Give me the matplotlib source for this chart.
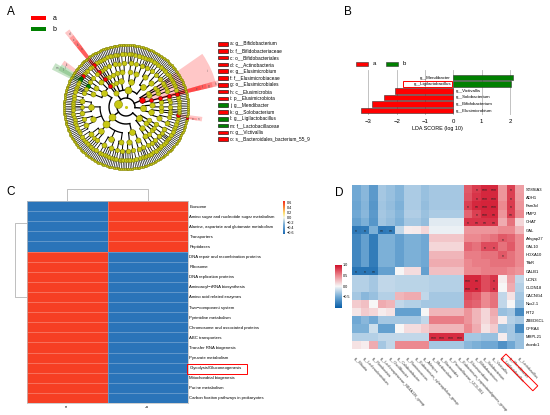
import numpy as np
import matplotlib
matplotlib.use("Agg")
import matplotlib.pyplot as plt
from matplotlib.patches import Wedge, Rectangle, Polygon
from matplotlib.colors import LinearSegmentedColormap

plt.rcParams['font.family'] = ['Liberation Sans', 'DejaVu Sans']

W, H = 550, 415

# ---------------- data ----------------
# cladogram tree: phylum -> class -> order -> family -> genus (= number of species)
phylum_bact = [[[[2, 1, 3], [1, 2]], [[2, 1], [1]]],
               [[[1, 3, 1]], [[2], [1, 2]]]]
phylum_elusi = [[[[2]]],
                [[[3, 2], [1]], [[2, 1]]],
                [[[1, 1]]]]
phylum_proteo = [[[[2, 1, 3], [1, 2]], [[3, 1], [2, 2, 1]]],
                 [[[1, 2, 2], [3]], [[2, 1, 1, 2]]],
                 [[[2, 3], [1, 1]], [[2, 1, 2]]],
                 [[[2, 2]]]]
phylum_actino = [[[[1, 2], [1]], [[2]]],
                 [[[2]]]]
phylum_firmi = [[[[1, 2], [3, 1]], [[1, 2, 1], [2, 1]], [[2, 1], [1, 1, 2]]],
                [[[3, 2, 1, 2], [1, 1], [2, 3, 1]], [[2, 2], [1, 3, 2, 1]],
                 [[4, 1, 2], [2], [1, 2, 1]], [[3, 3, 1], [2, 1, 2, 2]], [[1, 2], [2, 1, 1]]],
                [[[2, 1, 2], [1, 3]], [[2, 2], [1, 1, 2]]]]
phylum_other = [[[[2, 1], [3, 1]], [[1, 2]]],
                [[[2, 2, 1]], [[1, 1]]],
                [[[3, 2]]]]
clade_tree = [phylum_bact, phylum_elusi, phylum_proteo, phylum_actino, phylum_firmi, phylum_other]

# biomarker clades: path in tree, letter, taxon, enriched group
biomarker_paths = [(3, 1, 0, 0, 0), (3, 1, 0, 0), (3, 1, 0), (3, 1),
                   (1, 0, 0, 0, 0), (1, 0, 0, 0), (1, 0, 0), (1, 0), (1,),
                   (4, 0, 1, 0, 2), (4, 0, 1, 0, 1), (4, 0, 1, 1, 0), (4, 0, 1, 1),
                   (0, 0, 1, 0, 0), (0, 0, 1, 0, 0, 0)]
biomarker_letters = list('abcdefghijklmno')
biomarker_names = ['g__Bifidobacterium', 'f__Bifidobacteriaceae', 'o__Bifidobacteriales',
                   'c__Actinobacteria', 'g__Elusimicrobium', 'f__Elusimicrobiaceae',
                   'o__Elusimicrobiales', 'c__Elusimicrobia', 'p__Elusimicrobiota',
                   'g__Mendibacter', 'g__Solobacterium', 'g__Ligilactobacillus',
                   'f__Lactobacillaceae', 'g__Victivallis', 's__Bacteroidales_bacterium_55_9']
biomarker_group = ['a', 'a', 'a', 'a', 'a', 'a', 'a', 'a', 'a', 'b', 'a', 'b', 'b', 'a', 'a']

# LDA
lda_taxa = ['g__Mendibacter', 'g__Ligilactobacillus', 'g__Victivallis',
            'g__Solobacterium', 'g__Bifidobacterium', 'g__Elusimicrobium']
lda_score = [2.10, 2.03, -2.07, -2.44, -2.88, -3.25]

# KEGG heatmap
pathways = ['Exosome', 'Amino sugar and nucleotide sugar metabolism',
            'Alanine, aspartate and glutamate metabolism', 'Transporters', 'Peptidases',
            'DNA repair and recombination proteins', 'Ribosome', 'DNA replication proteins',
            'Aminoacyl\u2212tRNA biosynthesis', 'Amino acid related enzymes',
            'Two\u2212component system', 'Pyrimidine metabolism',
            'Chromosome and associated proteins', 'ABC transporters',
            'Transfer RNA biogenesis', 'Pyruvate metabolism', 'Glycolysis/Gluconeogenesis',
            'Mitochondrial biogenesis', 'Purine metabolism',
            'Carbon fixation pathways in prokaryotes']
pathway_a = [-0.62] * 5 + [0.62] * 15
pathway_b = [0.62] * 5 + [-0.62] * 15
groups_c = ['a', 'b']

# correlation heatmap
genes = ['ST8SIA3', 'ADH1', 'Fam3d', 'PMP2', 'CHAT', 'GAL', 'Arhgap27', 'GAL10', 'HOXA10',
         'TfbR', 'CALB1', 'UCN3', 'CLDN18', 'CACNG4', 'Nkx2-1', 'RIT2', 'ZBED6CL', 'GFRA4',
         'MRPL21', 'chordc1']
genera = ['g__Blautia', 'g__Lachnoclostridium', 'g__Romboutsia',
          'g__Lachnospiraceae_NK4A136_group', 'g__Oscillibacter', 'g__Colidextribacter',
          'g__Ruminococcus', 'g__Eubacterium_xylanophilum_group', 'g__Alistipes',
          'g__Muribaculum', 'g__Bacteroides', 'g__Prevotellaceae_UCG-001',
          'g__Eubacterium_coprostanoligenes_group', 'g__Elusimicrobium',
          'g__Bifidobacterium', 'g__Solobacterium', 'g__Victivallis',
          'g__Ligilactobacillus', 'g__Mendibacter', 'g__Lactobacillus']
corr = [
    [-0.50, -0.40, -0.60, -0.30, -0.35, -0.42, -0.28, -0.28, -0.35, -0.30, -0.30, -0.30, -0.30, 0.70, 0.82, 0.90, 0.90, 0.45, 0.80, 0.40],
    [-0.50, -0.40, -0.60, -0.30, -0.35, -0.42, -0.28, -0.28, -0.35, -0.30, -0.30, -0.30, -0.30, 0.72, 0.85, 0.90, 0.90, 0.45, 0.80, 0.42],
    [-0.52, -0.42, -0.62, -0.32, -0.36, -0.44, -0.28, -0.28, -0.36, -0.30, -0.30, -0.30, -0.30, 0.80, 0.90, 0.92, 0.92, 0.50, 0.82, 0.45],
    [-0.50, -0.40, -0.60, -0.30, -0.34, -0.42, -0.26, -0.26, -0.34, -0.28, -0.28, -0.28, -0.28, 0.65, 0.80, 0.90, 0.90, 0.45, 0.80, 0.50],
    [-0.55, -0.45, -0.62, -0.32, -0.36, -0.44, -0.30, -0.30, -0.36, -0.08, -0.08, -0.08, -0.08, 0.85, 0.85, 0.85, 0.85, 0.35, 0.60, 0.15],
    [-0.82, -0.80, -0.45, -0.82, -0.80, -0.20, 0.05, 0.06, 0.15, -0.04, -0.04, -0.04, -0.04, 0.45, 0.45, 0.45, 0.45, 0.50, 0.50, 0.30],
    [-0.72, -0.55, -0.80, -0.45, -0.45, -0.55, -0.45, -0.45, -0.50, 0.22, 0.22, 0.22, 0.22, 0.50, 0.50, 0.55, 0.60, 0.70, 0.65, 0.50],
    [-0.72, -0.55, -0.80, -0.45, -0.45, -0.55, -0.45, -0.45, -0.50, 0.15, 0.15, 0.15, 0.15, 0.65, 0.60, 0.75, 0.75, 0.60, 0.70, 0.50],
    [-0.72, -0.55, -0.80, -0.45, -0.45, -0.55, -0.45, -0.45, -0.50, 0.30, 0.30, 0.30, 0.30, 0.55, 0.55, 0.60, 0.60, 0.70, 0.60, 0.50],
    [-0.72, -0.55, -0.80, -0.45, -0.45, -0.55, -0.45, -0.45, -0.50, 0.35, 0.35, 0.35, 0.35, 0.50, 0.55, 0.55, 0.60, 0.60, 0.60, 0.50],
    [-0.85, -0.85, -0.85, -0.55, -0.55, 0.00, 0.12, 0.12, -0.55, 0.25, 0.25, 0.25, 0.25, 0.50, 0.50, 0.55, 0.55, 0.55, 0.50, 0.45],
    [-0.25, -0.25, -0.30, -0.20, -0.20, -0.22, -0.22, -0.22, -0.22, -0.25, -0.25, -0.25, -0.25, 0.90, 0.90, 0.75, 0.85, 0.05, 0.40, -0.20],
    [-0.25, -0.25, -0.30, -0.20, -0.20, -0.22, -0.22, -0.22, -0.22, -0.25, -0.25, -0.25, -0.25, 0.90, 0.90, 0.75, 0.85, 0.00, 0.35, -0.25],
    [-0.30, -0.40, -0.35, -0.25, -0.25, 0.30, 0.35, 0.35, -0.20, -0.30, -0.30, -0.30, -0.30, 0.75, 0.70, 0.50, 0.60, -0.20, 0.10, -0.30],
    [0.20, 0.25, 0.00, 0.35, 0.30, -0.20, -0.25, -0.25, -0.30, -0.30, -0.30, -0.30, -0.30, 0.70, 0.65, 0.50, 0.60, -0.20, 0.00, -0.35],
    [0.08, 0.20, 0.15, 0.05, 0.10, -0.55, -0.55, -0.55, 0.00, 0.30, 0.30, 0.30, 0.30, 0.45, 0.30, 0.15, 0.35, -0.35, -0.30, -0.70],
    [-0.50, -0.40, -0.50, -0.30, -0.30, -0.30, -0.30, -0.30, -0.20, 0.55, 0.55, 0.55, 0.55, 0.45, 0.30, 0.15, 0.30, 0.05, -0.25, -0.30],
    [-0.45, -0.45, -0.15, -0.55, -0.55, 0.00, 0.12, 0.12, 0.20, 0.30, 0.30, 0.30, 0.30, 0.50, 0.35, 0.10, 0.20, -0.35, -0.30, -0.70],
    [-0.25, -0.25, -0.25, -0.20, -0.20, -0.20, -0.20, -0.20, -0.20, 0.88, 0.88, 0.88, 0.88, -0.30, -0.30, -0.35, -0.35, 0.05, -0.30, -0.35],
    [0.10, 0.05, 0.35, -0.30, -0.20, 0.50, 0.50, 0.50, 0.50, -0.30, -0.30, -0.30, -0.30, -0.40, -0.45, -0.50, -0.50, -0.65, -0.50, -0.35],
]
star_rows = [0, 0, 0, 0, 1, 1, 1, 1, 2, 2, 2, 2, 2, 3, 3, 3, 3, 4, 4, 4, 4,
             5, 5, 5, 5, 6, 7, 7, 8, 10, 10, 10, 11, 11, 11, 12, 12, 12, 18, 18, 18, 18]
star_cols = [14, 15, 16, 18, 14, 15, 16, 18, 13, 14, 15, 16, 18, 14, 15, 16, 18, 13, 14, 15, 16,
             0, 1, 3, 4, 17, 15, 16, 17, 0, 1, 2, 13, 14, 16, 13, 14, 16, 9, 10, 11, 12]
star_marks = ['*', '***', '***', '*', '*', '***', '***', '*', '*', '**', '***', '***', '*',
              '*', '***', '**', '**', '*', '**', '**', '**',
              '*', '*', '**', '**', '*', '*', '*', '*', '*', '*', '**',
              '***', '**', '*', '***', '**', '*', '***', '***', '***', '***']

RED, GREEN = '#ff0000', '#008000'

fig = plt.figure(figsize=(W / 100, H / 100), dpi=100)


def px_axes(x0, y0, x1, y1):
    return fig.add_axes([x0 / W, 1 - y1 / H, (x1 - x0) / W, (y1 - y0) / H])


# ---------------- A: cladogram ----------------
cv = fig.add_axes([0, 0, 1, 1])
cv.set_xlim(0, W)
cv.set_ylim(H, 0)
cv.axis('off')

leaf_count = [0]


def build(spec, level, path):
    node = {'level': level, 'path': path, 'children': []}
    if level == 5:
        for s in range(spec):
            node['children'].append({'level': 6, 'path': path + (s,), 'children': [],
                                     'lo': leaf_count[0], 'hi': leaf_count[0] + 1})
            leaf_count[0] += 1
    else:
        for i, sub in enumerate(spec):
            node['children'].append(build(sub, level + 1, path + (i,)))
    node['lo'] = node['children'][0]['lo']
    node['hi'] = node['children'][-1]['hi']
    return node


root = build(clade_tree, 0, ())
n_leaves = leaf_count[0]
theta0 = 334.0
step = 360.0 / n_leaves
cx, cy = 126, 107
ring_r = [9, 17, 26, 35, 44, 53, 62]
line_w = [1.0, 1.0, 0.9, 0.8, 0.7, 0.55, 0.45]


def set_angle(node):
    if not node['children']:
        node['ang'] = theta0 + (node['lo'] + 0.5) * step
    else:
        for c in node['children']:
            set_angle(c)
        node['ang'] = 0.5 * (node['children'][0]['ang'] + node['children'][-1]['ang'])


set_angle(root)

all_nodes = []


def collect(node):
    all_nodes.append(node)
    for c in node['children']:
        collect(c)


collect(root)
by_path = {n['path']: n for n in all_nodes}


def pol(r, a):
    t = np.radians(a)
    return cx + r * np.cos(t), cy - r * np.sin(t)


# shaded clades
outer_r = {1: 93, 2: 96, 3: 89, 4: 83, 5: 77, 6: 72}
for path, letter, grp in zip(biomarker_paths, biomarker_letters, biomarker_group):
    nd = by_path[path]
    col = RED if grp == 'a' else GREEN
    a1 = theta0 + nd['lo'] * step
    a2 = theta0 + nd['hi'] * step
    r_in = ring_r[nd['level']] - 2
    r_out = outer_r[nd['level']]
    cv.add_patch(Wedge((cx, cy), r_out, -a2, -a1, width=r_out - r_in, fc=col, ec='none',
                       alpha=0.22, zorder=1))
    lx, ly = pol(r_out - 4, 0.5 * (a1 + a2))
    cv.text(lx, ly, letter, fontsize=2.0, color='#555555', ha='center', va='center', zorder=2)

# branches
for nd in all_nodes:
    if not nd['children']:
        continue
    r = ring_r[nd['level']]
    lw = line_w[nd['level']]
    a_lo, a_hi = nd['children'][0]['ang'], nd['children'][-1]['ang']
    t = np.radians(np.linspace(a_lo, a_hi, max(2, int(abs(a_hi - a_lo)) + 2)))
    cv.plot(cx + r * np.cos(t), cy - r * np.sin(t), color='black', lw=lw, zorder=2)
    for ch in nd['children']:
        p0 = pol(r, ch['ang'])
        p1 = pol(ring_r[ch['level']], ch['ang'])
        cv.plot([p0[0], p1[0]], [p0[1], p1[1]], color='black', lw=line_w[ch['level']],
                zorder=2)

# nodes
marker_col = {p: (RED if g == 'a' else GREEN) for p, g in zip(biomarker_paths, biomarker_group)}
for nd in all_nodes:
    nl = nd['hi'] - nd['lo']
    if nd['level'] == 6:
        d = 2.4
    elif nd['level'] == 0:
        d = 8.0
    else:
        d = min(7.0, 2.8 + 0.75 * np.log2(1 + nl))
    x, y = pol(ring_r[nd['level']], nd['ang'])
    fc = marker_col.get(nd['path'], '#c8c814')
    ec = '#5a0000' if fc == RED else ('#003000' if fc == GREEN else '#7a7a00')
    cv.scatter([x], [y], s=(d / 1.389) ** 2, c=fc, edgecolors=ec, linewidths=0.35, zorder=3)
cv.scatter([cx], [cy], s=1.5, c='#c8c814', zorder=3)

# group legend (A)
for yy, col, lab in [(16, RED, 'a'), (27, GREEN, 'b')]:
    cv.add_patch(Rectangle((31, yy), 15, 4.3, fc=col, ec='none'))
    cv.text(53, yy + 2.2, lab, fontsize=5, ha='left', va='center')

# biomarker legend (A)
for k, (letter, name, grp) in enumerate(zip(biomarker_letters, biomarker_names, biomarker_group)):
    yy = 44 + k * 6.8
    cv.add_patch(Rectangle((218, yy - 1.8), 10, 3.6, fc=RED if grp == 'a' else GREEN,
                           ec='black', lw=0.4))
    cv.text(230.5, yy, letter + ': ' + name, fontsize=3.4, ha='left', va='center')

# ---------------- B: LDA bars ----------------
axB = px_axes(358.5, 70, 517, 115)
axB.set_facecolor('none')
ypos = np.arange(len(lda_taxa))
axB.barh(ypos, lda_score, height=0.85, color=[GREEN if v > 0 else RED for v in lda_score],
         edgecolor='#333333', linewidth=0.4, zorder=3)
for yv, name, v in zip(ypos, lda_taxa, lda_score):
    if v > 0:
        axB.text(-0.08, yv, name, fontsize=3.2, ha='right', va='center', zorder=4)
    else:
        axB.text(0.08, yv, name, fontsize=3.2, ha='left', va='center', zorder=4)
axB.set_xlim(-3.35, 2.25)
axB.set_ylim(5.68, -1.14)
axB.set_xticks(range(-3, 3))
axB.set_yticks([])
axB.grid(axis='x', color='#b8b8b8', lw=0.6, zorder=0)
for s in axB.spines.values():
    s.set_visible(False)
axB.tick_params(axis='x', length=0, labelsize=4.3, pad=3)
axB.set_xlabel('LDA SCORE (log 10)', fontsize=3.9, labelpad=1.5)

for xx, col, lab in [(356, RED, 'a'), (386, GREEN, 'b')]:
    cv.add_patch(Rectangle((xx, 61.7), 11.5, 4, fc=col, ec='#333333', lw=0.4))
    cv.text(xx + 16.5, 63.7, lab, fontsize=4.3, ha='left', va='center')

# ---------------- C: pathway heatmap ----------------
cmapC = LinearSegmentedColormap.from_list('c', [(0, '#1c6ab4'), (0.3, '#7fb2da'),
                                                (0.5, '#f7f7e8'), (0.62, '#fde67c'),
                                                (0.8, '#f98c3c'), (1, '#f52a1d')])
axC = px_axes(27, 201, 188, 403)
valsC = np.array([pathway_a, pathway_b]).T
meshC = axC.pcolormesh(valsC, cmap=cmapC, vmin=-0.68, vmax=0.68,
                       edgecolors=(1, 1, 1, 0.25), linewidth=0.4)
axC.set_xlim(0, 2)
axC.set_ylim(len(pathways), 0)
axC.yaxis.tick_right()
axC.set_yticks(np.arange(len(pathways)) + 0.5)
axC.set_yticklabels(pathways, fontsize=3.1)
axC.set_xticks([0.5, 1.5])
axC.set_xticklabels(groups_c, fontsize=2.8, rotation=90)
axC.tick_params(length=0, pad=1)
for s in axC.spines.values():
    s.set_color('#bbbbbb')
    s.set_linewidth(0.5)

axCb = px_axes(282.7, 201, 285.3, 234)
cbC = fig.colorbar(meshC, cax=axCb, ticks=[0.6, 0.4, 0.2, 0, -0.2, -0.4, -0.6])
cbC.ax.tick_params(labelsize=2.7, length=0, pad=1)
cbC.outline.set_visible(False)

dendro = dict(color='#b4b4b4', lw=0.6)
cv.plot([67, 67, 147.5, 147.5], [201, 189.3, 189.3, 201], **dendro)
cv.plot([26.5, 15, 15, 26.5], [222.5, 222.5, 297, 297], **dendro)

# ---------------- D: correlation heatmap ----------------
cmapD = LinearSegmentedColormap.from_list('d', [(0, '#0b5fa8'), (0.25, '#6fa8d4'),
                                                (0.5, '#f7f7f7'), (0.75, '#ec8a91'),
                                                (1, '#d0102a')])
axD = px_axes(352, 185, 524, 349)
meshD = axD.pcolormesh(np.array(corr), cmap=cmapD, vmin=-1, vmax=1)
axD.set_xlim(0, len(genera))
axD.set_ylim(len(genes), 0)
for r, c, m in zip(star_rows, star_cols, star_marks):
    axD.text(c + 0.5, r + 0.72, m, fontsize=3.6, ha='center', va='center', color='#222222')
axD.yaxis.tick_right()
axD.set_yticks(np.arange(len(genes)) + 0.5)
axD.set_yticklabels(genes, fontsize=3.0)
axD.set_xticks(np.arange(len(genera)) + 0.5)
axD.set_xticklabels(genera, fontsize=2.7, rotation=-48, ha='left', va='top',
                    rotation_mode='anchor', color='#333333')
axD.tick_params(length=0, pad=1.5)
axD.tick_params(axis='x', pad=5)
for s in axD.spines.values():
    s.set_visible(False)

axDb = px_axes(335, 265, 341.5, 307.6)
cbD = fig.colorbar(meshD, cax=axDb, ticks=[1, 0.5, 0, -0.5])
cbD.ax.tick_params(labelsize=2.7, length=0, pad=1)
cbD.outline.set_visible(False)

# ---------------- overlay: panel letters and highlight boxes ----------------
ov = fig.add_axes([0, 0, 1, 1])
ov.set_xlim(0, W)
ov.set_ylim(H, 0)
ov.axis('off')
ov.patch.set_alpha(0)
for lx, ly, lab in [(11, 12, 'A'), (348, 12, 'B'), (11, 192, 'C'), (339, 193, 'D')]:
    ov.text(lx, ly, lab, fontsize=8.5, ha='center', va='center')
ov.add_patch(Rectangle((403.3, 81.3), 49, 5.4, fill=False, ec=RED, lw=0.7))
ov.add_patch(Rectangle((186.7, 364), 60, 10, fill=False, ec=RED, lw=0.7))
ang = np.radians(45)
u = np.array([np.cos(ang), np.sin(ang)])
nrm = np.array([-np.sin(ang), np.cos(ang)])
p0 = np.array([503.5, 356.5])
box = [p0 + nrm * 3.5, p0 + u * 45 + nrm * 3.5, p0 + u * 45 - nrm * 3.5, p0 - nrm * 3.5]
ov.add_patch(Polygon(box, closed=True, fill=False, ec=RED, lw=0.7))

fig.savefig('out.png', dpi=100)
